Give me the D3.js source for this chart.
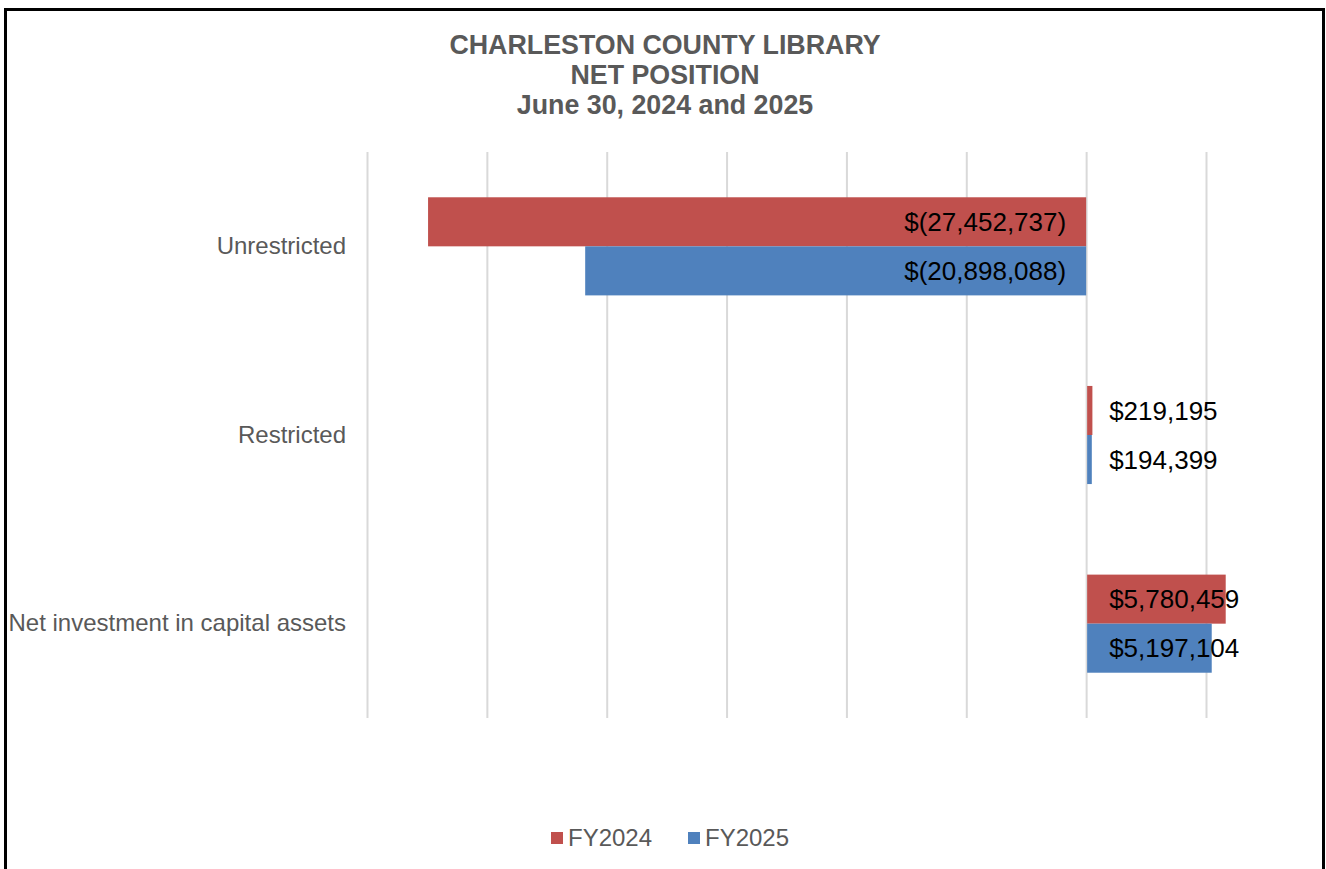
<!DOCTYPE html>
<html>
<head>
<meta charset="utf-8">
<script src="https://d3js.org/d3.v7.min.js"></script>
<style>
  body { margin: 0; background: #fff; }
  svg { display: block; font-family: "Liberation Sans", Arial, sans-serif; }
</style>
</head>
<body>
<div id="chart"></div>
<script>
var categories = ["Unrestricted", "Restricted", "Net investment in capital assets"];
var seriesNames = ["FY2024", "FY2025"];
var fy2024 = [-27452737, 219195, 5780459];
var fy2025 = [-20898088, 194399, 5197104];
var xTicks = [-30000000, -25000000, -20000000, -15000000, -10000000, -5000000, 0, 5000000];
var titleLines = ["CHARLESTON COUNTY LIBRARY", "NET POSITION", "June 30, 2024 and 2025"];

var colors = { FY2024: "#C0504D", FY2025: "#4F81BD" };
var width = 1326, height = 869;

var svg = d3.select("#chart").append("svg")
    .attr("width", width)
    .attr("height", height);

// outer frame
svg.append("rect")
    .attr("x", 5.5).attr("y", 9.5)
    .attr("width", 1318).attr("height", 870)
    .attr("fill", "none")
    .attr("stroke", "#000")
    .attr("stroke-width", 3);

svg.selectAll(".title")
    .data(titleLines)
    .enter().append("text")
    .attr("class", "title")
    .attr("x", 665)
    .attr("y", function(d, i) { return 54 + i * 30; })
    .attr("text-anchor", "middle")
    .style("font-size", "26.8px")
    .style("font-weight", "bold")
    .style("fill", "#595959")
    .text(function(d) { return d; });

var x = d3.scaleLinear()
    .domain([-30000000, 5000000])
    .range([367, 1206]);

var y = d3.scaleBand()
    .domain(categories)
    .range([152, 718])
    .paddingInner(0.48)
    .paddingOuter(0.24);

var ySub = d3.scaleBand()
    .domain(seriesNames)
    .range([0, y.bandwidth()]);

// gridlines
svg.append("g")
    .attr("class", "grid")
    .attr("transform", "translate(0,718)")
    .call(d3.axisBottom(x).tickValues(xTicks).tickSize(-566).tickFormat(""))
    .call(function(g) { g.select(".domain").remove(); })
    .call(function(g) {
        g.selectAll(".tick line").attr("stroke", "#d9d9d9").attr("stroke-width", 2);
    });

// category labels
svg.append("g")
    .attr("transform", "translate(346,0)")
    .call(d3.axisLeft(y).tickSize(0).tickPadding(0))
    .call(function(g) { g.select(".domain").remove(); })
    .call(function(g) {
        g.selectAll("text")
            .style("font-size", "24px")
            .style("fill", "#595959")
            .style("font-family", "'Liberation Sans', Arial, sans-serif");
    });

var rows = categories.map(function(c, i) {
    return { category: c, values: [
        { series: "FY2024", value: fy2024[i] },
        { series: "FY2025", value: fy2025[i] }
    ] };
});

var groups = svg.selectAll(".group")
    .data(rows)
    .enter().append("g")
    .attr("class", "group")
    .attr("transform", function(d) { return "translate(0," + y(d.category) + ")"; });

groups.selectAll("rect")
    .data(function(d) { return d.values; })
    .enter().append("rect")
    .attr("x", function(d) { return x(Math.min(0, d.value)) + (d.value > 0 ? 1 : 0); })
    .attr("y", function(d) { return ySub(d.series); })
    .attr("width", function(d) { return Math.abs(x(d.value) - x(0)); })
    .attr("height", ySub.bandwidth())
    .attr("fill", function(d) { return colors[d.series]; });

var fmt = d3.format(",");
groups.selectAll(".label")
    .data(function(d) { return d.values; })
    .enter().append("text")
    .attr("class", "label")
    .attr("x", function(d) { return d.value < 0 ? x(0) - 20 : x(0) + 23; })
    .attr("y", function(d) { return ySub(d.series) + ySub.bandwidth() / 2; })
    .attr("dy", "0.35em")
    .attr("text-anchor", function(d) { return d.value < 0 ? "end" : "start"; })
    .style("font-size", "26px")
    .style("fill", "#000")
    .text(function(d) {
        return d.value < 0 ? "$(" + fmt(-d.value) + ")" : "$" + fmt(d.value);
    });

// legend
var legend = svg.selectAll(".legend")
    .data(seriesNames)
    .enter().append("g")
    .attr("class", "legend")
    .attr("transform", function(d, i) { return "translate(" + (551 + i * 137) + ",832)"; });

legend.append("rect")
    .attr("width", 12).attr("height", 12)
    .attr("fill", function(d) { return colors[d]; });

legend.append("text")
    .attr("x", 17)
    .attr("y", 6)
    .attr("dy", "0.35em")
    .style("font-size", "24px")
    .style("fill", "#595959")
    .text(function(d) { return d; });
</script>
</body>
</html>
